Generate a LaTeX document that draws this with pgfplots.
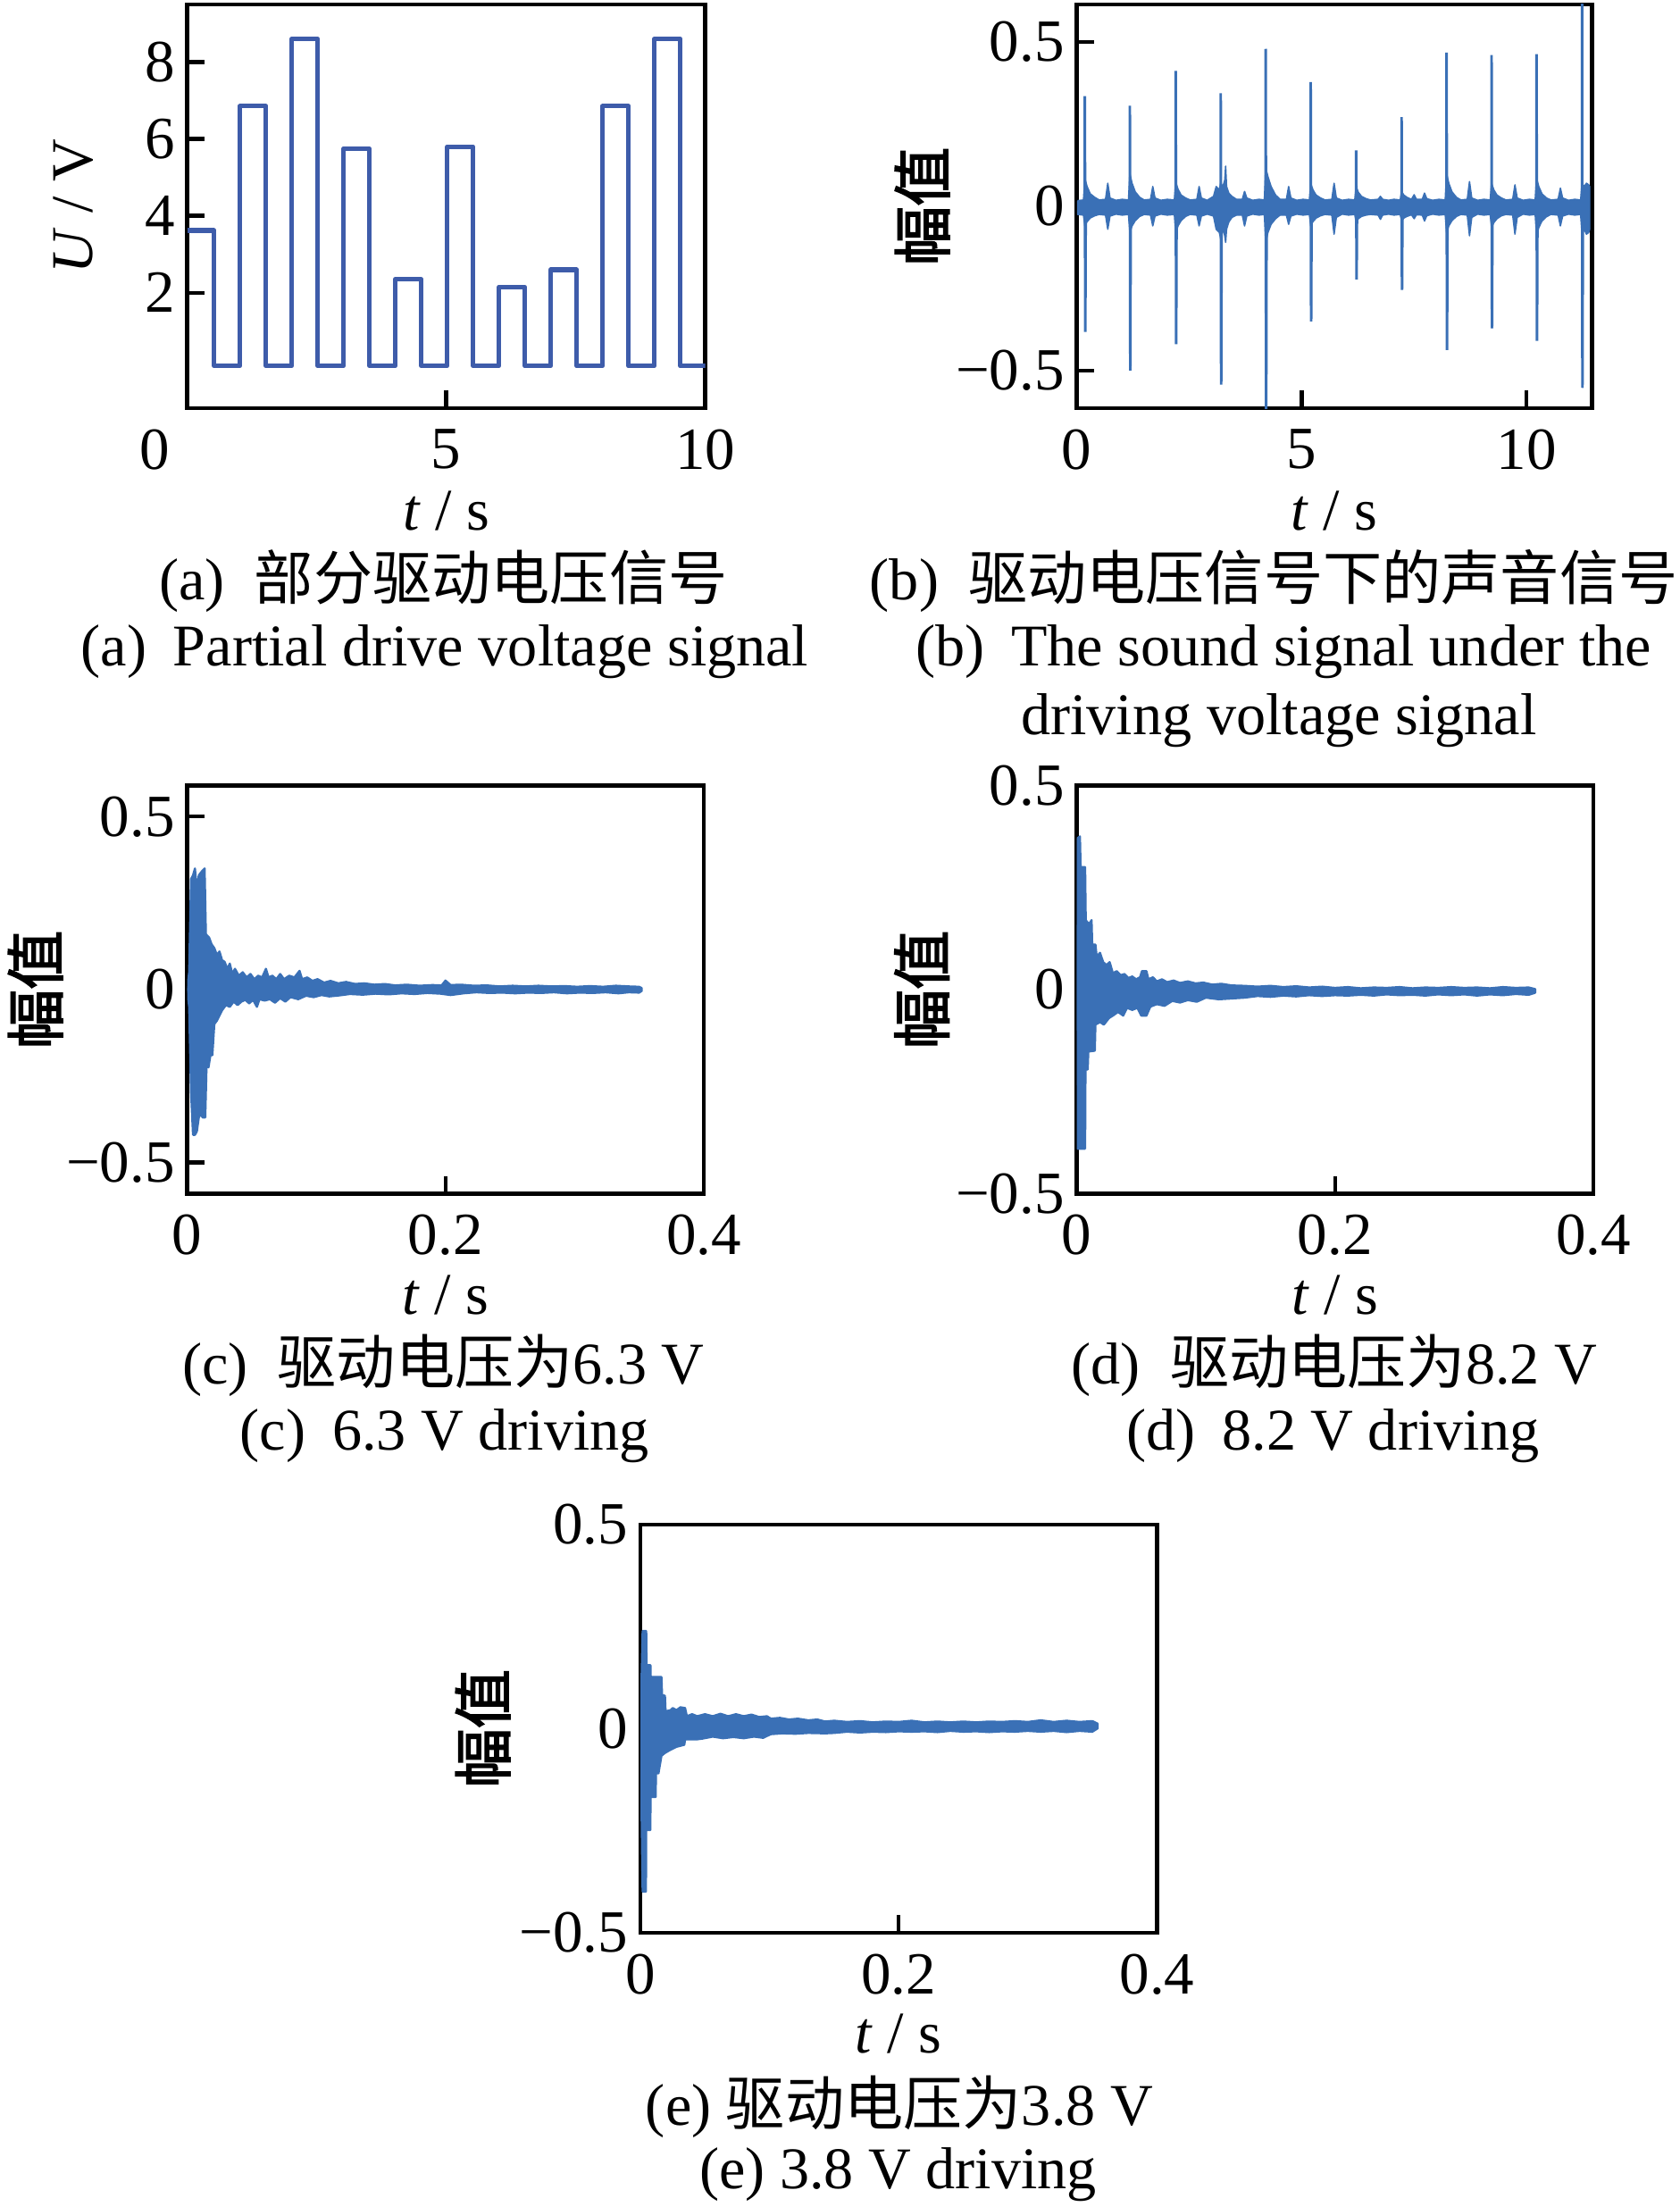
\documentclass[border=0pt]{standalone}
\usepackage{fontspec}
\setmainfont{Liberation Serif}
\newfontfamily\cjk{Noto Sans CJK SC}
\newfontfamily\cjkb[FakeBold=2.5]{Noto Sans CJK SC}
\usepackage{pgfplots}
\pgfplotsset{compat=1.18}
\definecolor{sig}{RGB}{58,112,182}
\definecolor{volt}{RGB}{62,92,170}
\pgfplotsset{
  panel/.style={scale only axis, anchor=north west, tick align=inside, tick pos=left,
    major tick length=5pt, axis line style={line width=1.1pt},
    major tick style={line width=1.1pt, black},
    tick label style={font=\fontsize{17}{19}\selectfont},
    xticklabel style={yshift=-2.5pt},
    label style={font=\fontsize{16.8}{19}\selectfont},
    xlabel style={at={(axis description cs:0.5,-0.248)},anchor=center},
    xlabel={\textit{t} / s}},
}
\newcommand{\capfont}{\fontsize{16.8}{20}\selectfont}
\begin{document}
\begin{tikzpicture}
\path[use as bounding box] (0,0) rectangle (477.2pt,-627.2pt);
% ---------------- (a)
\begin{axis}[panel, at={(53.2pt,-1.2pt)}, width=147.2pt, height=114.8pt,
  xmin=0, xmax=10, ymin=-1, ymax=9.5,
  xtick={0,5,10}, xticklabels={\llap{0\hspace{5pt}},5,10},
  ytick={2,4,6,8}, yticklabels={2,4,6,8},
  ylabel={\textit{U} / V},
  ylabel style={at={(axis description cs:-0.22,0.5)},anchor=center},
  xlabel style={at={(axis description cs:0.5,-0.254)},anchor=center}]
\addplot[volt, line width=1.3pt, line join=round] coordinates {
(0,3.62) (0.52,3.62) (0.52,0.1) (1.02,0.1) (1.02,6.85) (1.52,6.85) (1.52,0.1)
(2.02,0.1) (2.02,8.6) (2.52,8.6) (2.52,0.1) (3.02,0.1) (3.02,5.75) (3.52,5.75) (3.52,0.1)
(4.02,0.1) (4.02,2.35) (4.52,2.35) (4.52,0.1) (5.02,0.1) (5.02,5.8) (5.52,5.8) (5.52,0.1)
(6.02,0.1) (6.02,2.15) (6.52,2.15) (6.52,0.1) (7.02,0.1) (7.02,2.6) (7.52,2.6) (7.52,0.1)
(8.02,0.1) (8.02,6.85) (8.52,6.85) (8.52,0.1) (9.02,0.1) (9.02,8.6) (9.52,8.6) (9.52,0.1)
(10,0.1)};
\end{axis}
% ---------------- (b)
\begin{axis}[panel, at={(306pt,-1.2pt)}, width=146.4pt, height=114.8pt,
  xmin=0, xmax=11.45, ymin=-0.615, ymax=0.615,
  xtick={0,5,10}, xticklabels={0,5,10},
  ytick={-0.5,0,0.5}, yticklabels={−0.5,0,0.5},
  ylabel={\cjkb 幅值},
  ylabel style={at={(axis description cs:-0.30,0.5)},anchor=center},
  xlabel style={at={(axis description cs:0.5,-0.254)},anchor=center}]
\addplot[sig, fill=sig, line width=0.4pt, line join=round] coordinates {
(0.02,0.017) (0.15,0.019) (0.18,0.085) (0.23,0.06) (0.30,0.038) (0.40,0.027) (0.50,0.019) (0.64,0.021) (0.69,0.07) (0.74,0.025) (0.87,0.018)
(1.01,0.021) (1.15,0.019) (1.18,0.10) (1.23,0.07) (1.30,0.044) (1.40,0.027) (1.50,0.019) (1.64,0.021) (1.69,0.06) (1.74,0.025) (1.87,0.018)
(2.01,0.021) (2.17,0.019) (2.20,0.074) (2.25,0.052) (2.32,0.034) (2.42,0.025) (2.52,0.019) (2.67,0.021) (2.72,0.06) (2.77,0.025) (2.90,0.018)
(3.04,0.03) (3.10,0.06) (3.17,0.05) (3.20,0.07) (3.25,0.06) (3.29,0.08) (3.31,0.122) (3.33,0.06) (3.38,0.04) (3.45,0.03) (3.55,0.021) (3.68,0.021) (3.73,0.045) (3.78,0.025) (3.91,0.018)
(4.05,0.021) (4.17,0.019) (4.20,0.117) (4.25,0.09) (4.32,0.06) (4.42,0.034) (4.52,0.021) (4.66,0.021) (4.71,0.06) (4.76,0.025) (4.89,0.018)
(5.03,0.021) (5.17,0.019) (5.20,0.07) (5.25,0.05) (5.32,0.034) (5.42,0.025) (5.52,0.019) (5.67,0.021) (5.72,0.07) (5.77,0.025) (5.90,0.018)
(6.04,0.021) (6.18,0.019) (6.21,0.06) (6.26,0.042) (6.33,0.03) (6.43,0.023) (6.53,0.019) (6.70,0.021) (6.75,0.03) (6.80,0.021) (6.93,0.018)
(7.05,0.021) (7.19,0.019) (7.22,0.045) (7.27,0.034) (7.34,0.027) (7.44,0.021) (7.50,0.035) (7.55,0.021) (7.68,0.021) (7.73,0.04) (7.78,0.023) (7.91,0.018)
(8.05,0.021) (8.19,0.019) (8.22,0.10) (8.27,0.07) (8.34,0.044) (8.44,0.027) (8.54,0.019) (8.68,0.021) (8.73,0.075) (8.78,0.025) (8.91,0.018)
(9.05,0.021) (9.19,0.019) (9.22,0.07) (9.27,0.05) (9.34,0.034) (9.44,0.025) (9.54,0.019) (9.69,0.021) (9.74,0.065) (9.79,0.025) (9.92,0.018)
(10.06,0.021) (10.19,0.019) (10.22,0.085) (10.27,0.06) (10.34,0.038) (10.44,0.025) (10.54,0.019) (10.70,0.021) (10.75,0.055) (10.80,0.025) (10.93,0.018)
(11.07,0.021) (11.20,0.019) (11.23,0.07) (11.28,0.06) (11.33,0.07) (11.38,0.065) (11.40,0.06)
(11.40,-0.07) (11.38,-0.08) (11.33,-0.085) (11.28,-0.07) (11.23,-0.085) (11.20,-0.025) (11.07,-0.027)
(10.93,-0.024) (10.80,-0.03) (10.75,-0.06) (10.70,-0.027) (10.54,-0.025) (10.44,-0.032) (10.34,-0.045) (10.27,-0.065) (10.22,-0.09) (10.19,-0.025) (10.06,-0.027)
(9.92,-0.024) (9.79,-0.034) (9.74,-0.085) (9.69,-0.027) (9.54,-0.025) (9.44,-0.029) (9.34,-0.038) (9.27,-0.05) (9.22,-0.065) (9.19,-0.025) (9.05,-0.027)
(8.91,-0.024) (8.78,-0.034) (8.73,-0.09) (8.68,-0.027) (8.54,-0.025) (8.44,-0.031) (8.34,-0.044) (8.27,-0.06) (8.22,-0.08) (8.19,-0.025) (8.05,-0.027)
(7.91,-0.024) (7.78,-0.029) (7.73,-0.045) (7.68,-0.027) (7.55,-0.026) (7.50,-0.038) (7.44,-0.026) (7.34,-0.031) (7.27,-0.036) (7.22,-0.045) (7.19,-0.025) (7.05,-0.027)
(6.93,-0.024) (6.80,-0.027) (6.75,-0.04) (6.70,-0.027) (6.53,-0.025) (6.43,-0.027) (6.33,-0.031) (6.26,-0.038) (6.21,-0.05) (6.18,-0.025) (6.04,-0.027)
(5.90,-0.024) (5.77,-0.034) (5.72,-0.085) (5.67,-0.027) (5.52,-0.025) (5.42,-0.029) (5.32,-0.036) (5.25,-0.047) (5.20,-0.06) (5.17,-0.025) (5.03,-0.027)
(4.89,-0.024) (4.76,-0.03) (4.71,-0.055) (4.66,-0.027) (4.52,-0.027) (4.42,-0.038) (4.32,-0.055) (4.25,-0.08) (4.20,-0.11) (4.17,-0.025) (4.05,-0.027)
(3.91,-0.024) (3.78,-0.03) (3.73,-0.06) (3.68,-0.027) (3.55,-0.027) (3.45,-0.034) (3.38,-0.048) (3.33,-0.07) (3.31,-0.11) (3.29,-0.09) (3.25,-0.07) (3.20,-0.10) (3.17,-0.08) (3.10,-0.07) (3.04,-0.03)
(2.90,-0.024) (2.77,-0.03) (2.72,-0.06) (2.67,-0.027) (2.52,-0.025) (2.42,-0.031) (2.32,-0.044) (2.25,-0.06) (2.20,-0.085) (2.17,-0.025) (2.01,-0.027)
(1.87,-0.024) (1.74,-0.03) (1.69,-0.06) (1.64,-0.027) (1.50,-0.025) (1.40,-0.031) (1.30,-0.044) (1.23,-0.06) (1.18,-0.08) (1.15,-0.025) (1.01,-0.027)
(0.87,-0.024) (0.74,-0.03) (0.69,-0.07) (0.64,-0.027) (0.50,-0.025) (0.40,-0.029) (0.30,-0.036) (0.23,-0.047) (0.18,-0.06) (0.15,-0.027) (0.02,-0.025)
(0.02,0.017)};
\addplot[sig, line width=0.75pt] coordinates {
(0.18,0) (0.18,0.335) (0.19,-0.383) (0.20,0)
(1.18,0) (1.18,0.306) (1.19,-0.50) (1.20,0)
(2.20,0) (2.20,0.412) (2.21,-0.42) (2.22,0)
(3.20,0) (3.20,0.344) (3.21,-0.543) (3.22,0)
(4.20,0) (4.20,0.479) (4.21,-0.70) (4.22,0)
(5.20,0) (5.20,0.378) (5.21,-0.351) (5.22,0)
(6.21,0) (6.21,0.17) (6.22,-0.223) (6.23,0)
(7.22,0) (7.22,0.271) (7.23,-0.255) (7.24,0)
(8.22,0) (8.22,0.468) (8.23,-0.438) (8.24,0)
(9.22,0) (9.22,0.46) (9.23,-0.372) (9.24,0)
(10.22,0) (10.22,0.463) (10.23,-0.41) (10.24,0)
(11.23,0) (11.23,0.70) (11.24,-0.553) (11.25,0)};
\end{axis}
% ---------------- (c)
\begin{axis}[panel, at={(53.2pt,-223.2pt)}, width=146.8pt, height=116pt,
  xmin=0, xmax=0.4, ymin=-0.59, ymax=0.59,
  xtick={0,0.2,0.4}, xticklabels={0,0.2,0.4},
  ytick={-0.5,0,0.5}, yticklabels={−0.5,0,0.5},
  ylabel={\cjkb 幅值},
  ylabel style={at={(axis description cs:-0.294,0.5)},anchor=center}]
\addplot[sig, fill=sig, line width=0.6pt, line join=round] coordinates {
(0,0) (0.0015,0.05) (0.003,0.32) (0.0045,0.33) (0.006,0.35) (0.0075,0.29) (0.009,0.33) (0.011,0.34) (0.0135,0.35)
(0.0145,0.16) (0.017,0.15) (0.019,0.13) (0.021,0.12) (0.023,0.10) (0.025,0.11) (0.027,0.085) (0.029,0.08)
(0.031,0.06) (0.033,0.075) (0.035,0.045) (0.037,0.06) (0.040,0.04) (0.043,0.05) (0.046,0.035) (0.049,0.045)
(0.052,0.03) (0.055,0.04) (0.058,0.035) (0.061,0.06) (0.063,0.035) (0.066,0.04) (0.069,0.03) (0.072,0.045)
(0.075,0.03) (0.079,0.04) (0.083,0.035) (0.087,0.054) (0.089,0.03) (0.093,0.035) (0.097,0.025) (0.101,0.03)
(0.106,0.02) (0.111,0.025) (0.117,0.018) (0.123,0.022) (0.13,0.016) (0.137,0.018) (0.145,0.014) (0.153,0.016)
(0.161,0.012) (0.17,0.014) (0.18,0.011) (0.19,0.013) (0.197,0.012) (0.2,0.026) (0.204,0.013) (0.212,0.014)
(0.222,0.011) (0.232,0.012) (0.242,0.009) (0.252,0.011) (0.262,0.009) (0.272,0.011) (0.282,0.009) (0.292,0.010)
(0.302,0.008) (0.312,0.010) (0.322,0.008) (0.332,0.011) (0.342,0.009) (0.350,0.008) (0.352,0.004)
(0.352,-0.004) (0.350,-0.009) (0.342,-0.008) (0.334,-0.011) (0.324,-0.008) (0.314,-0.010) (0.304,-0.009)
(0.294,-0.011) (0.284,-0.008) (0.274,-0.010) (0.264,-0.009) (0.254,-0.011) (0.244,-0.009) (0.234,-0.010)
(0.224,-0.008) (0.214,-0.011) (0.204,-0.016) (0.196,-0.012) (0.186,-0.010) (0.176,-0.013) (0.166,-0.011)
(0.156,-0.014) (0.146,-0.012) (0.136,-0.015) (0.126,-0.013) (0.118,-0.017) (0.11,-0.02) (0.104,-0.016)
(0.098,-0.022) (0.092,-0.018) (0.086,-0.028) (0.08,-0.022) (0.076,-0.035) (0.072,-0.025) (0.068,-0.038)
(0.064,-0.028) (0.060,-0.032) (0.056,-0.028) (0.054,-0.05) (0.051,-0.03) (0.048,-0.04) (0.045,-0.03)
(0.042,-0.035) (0.039,-0.045) (0.036,-0.035) (0.033,-0.05) (0.030,-0.045) (0.027,-0.06) (0.025,-0.075)
(0.023,-0.09) (0.021,-0.10) (0.0195,-0.19) (0.018,-0.19) (0.0165,-0.225) (0.015,-0.22) (0.014,-0.37)
(0.012,-0.37) (0.0105,-0.36) (0.009,-0.37) (0.0075,-0.41) (0.006,-0.42) (0.0045,-0.42) (0.003,-0.30)
(0.0015,-0.05) (0,0)};
\end{axis}
% ---------------- (d)
\begin{axis}[panel, at={(306pt,-223.2pt)}, width=146.8pt, height=116pt,
  xmin=0, xmax=0.4, ymin=-0.5, ymax=0.5,
  xtick={0,0.2,0.4}, xticklabels={0,0.2,0.4},
  ytick={-0.5,0,0.5}, yticklabels={−0.5,0,0.5},
  ylabel={\cjkb 幅值},
  ylabel style={at={(axis description cs:-0.30,0.5)},anchor=center}]
\addplot[sig, fill=sig, line width=0.6pt, line join=round] coordinates {
(0,0) (0.0003,0.37) (0.0025,0.375) (0.003,0.30) (0.0065,0.30) (0.007,0.17) (0.0095,0.16) (0.0115,0.17)
(0.012,0.11) (0.0145,0.11) (0.0155,0.08) (0.018,0.09) (0.0205,0.067) (0.023,0.06) (0.0255,0.067) (0.028,0.04)
(0.031,0.045) (0.034,0.035) (0.037,0.038) (0.040,0.028) (0.043,0.032) (0.046,0.025) (0.049,0.03) (0.0505,0.045)
(0.054,0.045) (0.0555,0.025) (0.059,0.03) (0.062,0.02) (0.066,0.025) (0.070,0.018) (0.075,0.022) (0.080,0.016)
(0.086,0.02) (0.092,0.015) (0.098,0.017) (0.105,0.012) (0.112,0.014) (0.12,0.01) (0.13,0.009) (0.14,0.007)
(0.15,0.009) (0.16,0.006) (0.17,0.008) (0.18,0.005) (0.19,0.007) (0.2,0.004) (0.21,0.006) (0.22,0.003)
(0.23,0.005) (0.24,0.004) (0.25,0.006) (0.26,0.003) (0.27,0.005) (0.28,0.004) (0.29,0.006) (0.30,0.004)
(0.31,0.005) (0.32,0.003) (0.33,0.006) (0.34,0.004) (0.35,0.005) (0.355,0.001)
(0.355,-0.008) (0.35,-0.013) (0.34,-0.011) (0.33,-0.014) (0.32,-0.012) (0.31,-0.015) (0.30,-0.012)
(0.29,-0.014) (0.28,-0.012) (0.27,-0.015) (0.26,-0.013) (0.25,-0.014) (0.24,-0.012) (0.23,-0.015)
(0.22,-0.013) (0.21,-0.015) (0.2,-0.014) (0.19,-0.016) (0.18,-0.014) (0.17,-0.017) (0.16,-0.015)
(0.15,-0.018) (0.14,-0.016) (0.13,-0.02) (0.12,-0.022) (0.11,-0.024) (0.10,-0.02) (0.093,-0.03)
(0.086,-0.026) (0.08,-0.032) (0.074,-0.028) (0.068,-0.04) (0.062,-0.036) (0.057,-0.042) (0.054,-0.064)
(0.050,-0.064) (0.047,-0.045) (0.043,-0.05) (0.039,-0.045) (0.036,-0.064) (0.032,-0.055) (0.028,-0.064)
(0.025,-0.07) (0.021,-0.086) (0.018,-0.08) (0.0145,-0.086) (0.014,-0.15) (0.009,-0.152) (0.0085,-0.196)
(0.0068,-0.196) (0.0065,-0.39) (0.0005,-0.39) (0,0)};
\end{axis}
% ---------------- (e)
\begin{axis}[panel, at={(182pt,-433.2pt)}, width=146.8pt, height=116pt,
  xmin=0, xmax=0.4, ymin=-0.5, ymax=0.5,
  xtick={0,0.2,0.4}, xticklabels={0,0.2,0.4},
  ytick={-0.5,0,0.5}, yticklabels={−0.5,0,0.5},
  ylabel={\cjkb 幅值},
  ylabel style={at={(axis description cs:-0.305,0.5)},anchor=center}]
\addplot[sig, fill=sig, line width=0.6pt, line join=round] coordinates {
(0,0) (0.0017,0.239) (0.0045,0.239) (0.0048,0.155) (0.0078,0.155) (0.008,0.126) (0.0163,0.126) (0.0168,0.082)
(0.019,0.08) (0.0195,0.042) (0.0234,0.045) (0.025,0.05) (0.028,0.045) (0.031,0.052) (0.0346,0.05) (0.036,0.03)
(0.04,0.035) (0.044,0.03) (0.05,0.035) (0.056,0.03) (0.062,0.036) (0.068,0.03) (0.074,0.035) (0.08,0.03)
(0.086,0.034) (0.092,0.028) (0.098,0.03) (0.101,0.024) (0.108,0.026) (0.115,0.022) (0.122,0.024) (0.13,0.02)
(0.137,0.022) (0.143,0.017) (0.15,0.019) (0.16,0.016) (0.17,0.018) (0.18,0.015) (0.19,0.017) (0.2,0.016)
(0.21,0.019) (0.22,0.015) (0.23,0.017) (0.24,0.015) (0.25,0.017) (0.26,0.015) (0.27,0.017) (0.28,0.016)
(0.29,0.018) (0.3,0.016) (0.31,0.02) (0.32,0.016) (0.33,0.019) (0.34,0.016) (0.35,0.018) (0.354,0.012)
(0.354,0.0) (0.35,-0.008) (0.34,-0.006) (0.33,-0.009) (0.32,-0.006) (0.31,-0.008) (0.30,-0.006)
(0.29,-0.008) (0.28,-0.007) (0.27,-0.009) (0.26,-0.007) (0.25,-0.008) (0.24,-0.006) (0.23,-0.009)
(0.22,-0.007) (0.21,-0.008) (0.2,-0.007) (0.19,-0.009) (0.18,-0.008) (0.17,-0.01) (0.16,-0.008)
(0.15,-0.011) (0.143,-0.012) (0.13,-0.011) (0.12,-0.013) (0.11,-0.012) (0.101,-0.014) (0.095,-0.023)
(0.088,-0.02) (0.08,-0.024) (0.072,-0.021) (0.064,-0.024) (0.056,-0.02) (0.048,-0.025) (0.0431,-0.027)
(0.0346,-0.027) (0.034,-0.04) (0.028,-0.045) (0.0234,-0.052) (0.019,-0.06) (0.0163,-0.067) (0.014,-0.11)
(0.0121,-0.11) (0.0118,-0.168) (0.0079,-0.168) (0.0077,-0.249) (0.0045,-0.249) (0.0043,-0.40)
(0.0017,-0.40) (0,0)};
\end{axis}
% ---------------- captions
\node[font=\capfont] at (126pt,-165.2pt) {(a)\hspace{0.5em}{\cjk 部分驱动电压信号}};
\node[font=\capfont] at (126.4pt,-185.2pt) {(a)\hspace{0.45em}Partial drive voltage signal};
\node[font=\capfont] at (362pt,-165.2pt) {(b)\hspace{0.5em}{\cjk 驱动电压信号下的声音信号}};
\node[font=\capfont, anchor=west, inner sep=0pt] at (260pt,-185.2pt) {(b)\hspace{0.45em}The sound signal under the};
\node[font=\capfont, anchor=west, inner sep=0pt] at (290pt,-204.8pt) {driving voltage signal};
\node[font=\capfont] at (126pt,-388pt) {(c)\hspace{0.5em}{\cjk 驱动电压为}6.3 V};
\node[font=\capfont] at (126.4pt,-408pt) {(c)\hspace{0.45em}6.3 V driving};
\node[font=\capfont] at (379.2pt,-388pt) {(d)\hspace{0.5em}{\cjk 驱动电压为}8.2 V};
\node[font=\capfont] at (378.8pt,-408pt) {(d)\hspace{0.45em}8.2 V driving};
\node[font=\capfont] at (255.6pt,-598.8pt) {(e) {\cjk 驱动电压为}3.8 V};
\node[font=\capfont] at (255.2pt,-618pt) {(e) 3.8 V driving};
\end{tikzpicture}
\end{document}
